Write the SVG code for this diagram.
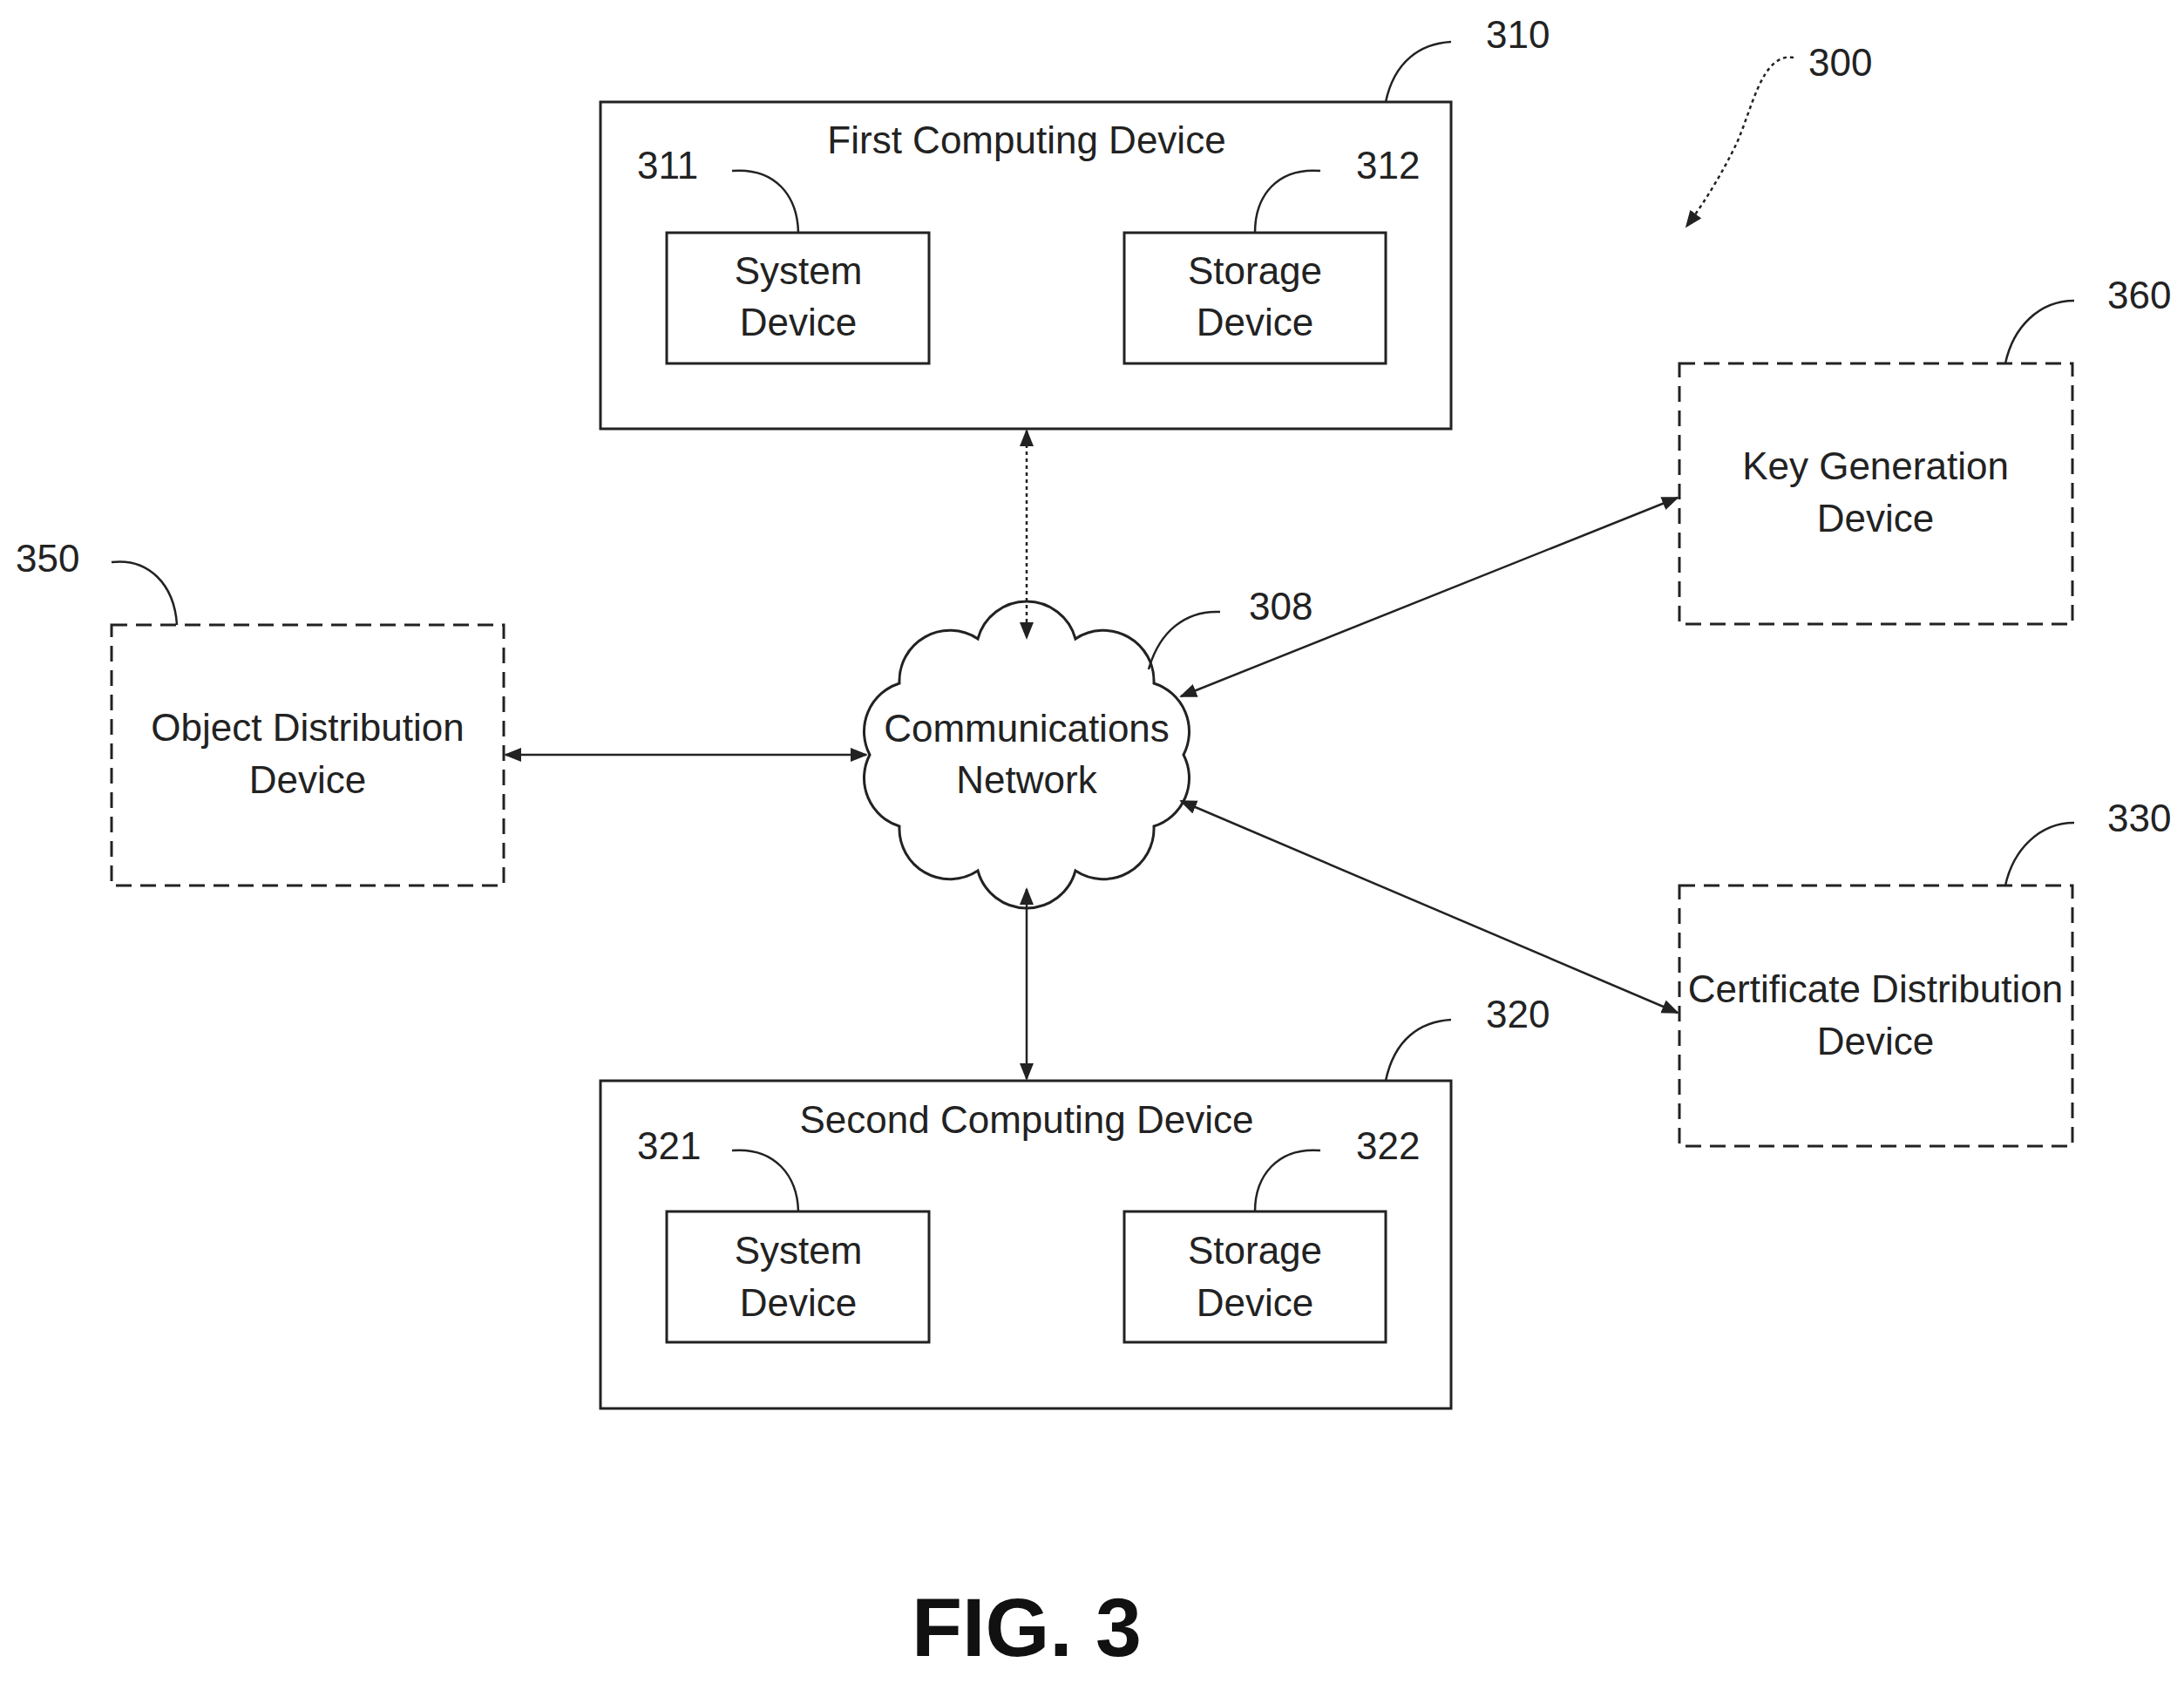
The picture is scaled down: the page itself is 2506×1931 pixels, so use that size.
<svg xmlns="http://www.w3.org/2000/svg" width="2506" height="1931" viewBox="0 0 2506 1931">
<style>
text{font-family:"Liberation Sans",Arial,sans-serif;font-size:44px;fill:#222;text-anchor:middle}
.lbl{text-anchor:start}
.box{fill:#fff;stroke:#222;stroke-width:3}
.dash{fill:#fff;stroke:#222;stroke-width:3;stroke-dasharray:18 10}
.ln{fill:none;stroke:#222;stroke-width:2.5}
</style>
<defs>
<marker id="a" viewBox="0 0 10 10" refX="9" refY="5" markerWidth="8" markerHeight="8" orient="auto-start-reverse" markerUnits="strokeWidth"><path d="M0,1 L10,5 L0,9 z" fill="#222"/></marker>
</defs>
<rect width="2506" height="1931" fill="#fff"/>
<g id="n310"><rect class="box" x="689" y="117" width="976" height="375"/><text x="1178" y="176">First Computing Device</text></g>
<g id="n311"><rect class="box" x="765" y="267" width="301" height="150"/><text x="916" y="326">System</text><text x="916" y="385">Device</text></g>
<g id="n312"><rect class="box" x="1290" y="267" width="300" height="150"/><text x="1440" y="326">Storage</text><text x="1440" y="385">Device</text></g>
<g id="n320"><rect class="box" x="689" y="1240" width="976" height="376"/><text x="1178" y="1300">Second Computing Device</text></g>
<g id="n321"><rect class="box" x="765" y="1390" width="301" height="150"/><text x="916" y="1450">System</text><text x="916" y="1510">Device</text></g>
<g id="n322"><rect class="box" x="1290" y="1390" width="300" height="150"/><text x="1440" y="1450">Storage</text><text x="1440" y="1510">Device</text></g>
<g id="n350"><rect class="dash" x="128" y="717" width="450" height="299"/><text x="353" y="850">Object Distribution</text><text x="353" y="910">Device</text></g>
<g id="n360"><rect class="dash" x="1927" y="417" width="451" height="299"/><text x="2152" y="550">Key Generation</text><text x="2152" y="610">Device</text></g>
<g id="n330"><rect class="dash" x="1927" y="1016" width="451" height="299"/><text x="2152" y="1150">Certificate Distribution</text><text x="2152" y="1210">Device</text></g>
<g id="n308"><path class="box" d="M1358,866 A58,58 0 0 1 1324,948 A58,58 0 0 1 1234,999 A58,58 0 0 1 1122,999 A58,58 0 0 1 1032,948 A58,58 0 0 1 998,866 A58,58 0 0 1 1032,784 A58,58 0 0 1 1122,733 A58,58 0 0 1 1234,733 A58,58 0 0 1 1324,784 A58,58 0 0 1 1358,866 Z"/><text x="1178" y="851">Communications</text><text x="1178" y="910">Network</text></g>
<g id="connectors">
<line class="ln" x1="1178" y1="494" x2="1178" y2="732" stroke-dasharray="4 4" marker-start="url(#a)" marker-end="url(#a)"/>
<line class="ln" x1="1178" y1="1020" x2="1178" y2="1238" marker-start="url(#a)" marker-end="url(#a)"/>
<line class="ln" x1="580" y1="866" x2="994" y2="866" marker-start="url(#a)" marker-end="url(#a)"/>
<line class="ln" x1="1355" y1="799" x2="1925" y2="571" marker-start="url(#a)" marker-end="url(#a)"/>
<line class="ln" x1="1355" y1="919" x2="1925" y2="1162" marker-start="url(#a)" marker-end="url(#a)"/>
</g>
<g id="labels">
<text class="lbl" x="1705" y="55">310</text><path class="ln" d="M1590,117 C1600,70 1630,50 1665,48"/>
<text class="lbl" x="2075" y="87">300</text><path class="ln" d="M2058,66 C2020,60 2010,130 1990,170 C1970,210 1950,240 1935,260" stroke-dasharray="4 4" marker-end="url(#a)"/>
<text class="lbl" x="2418" y="354">360</text><path class="ln" d="M2301,417 C2310,375 2340,345 2380,345"/>
<text class="lbl" x="2418" y="954">330</text><path class="ln" d="M2301,1016 C2310,975 2340,944 2380,944"/>
<text class="lbl" x="18" y="656">350</text><path class="ln" d="M128,645 C170,640 200,670 203,717"/>
<text class="lbl" x="1433" y="711">308</text><path class="ln" d="M1318,768 C1330,725 1360,700 1400,702"/>
<text class="lbl" x="1705" y="1179">320</text><path class="ln" d="M1590,1240 C1600,1192 1630,1172 1665,1170"/>
<text class="lbl" x="731" y="205">311</text><path class="ln" d="M840,196 C890,192 915,225 916,267"/>
<text class="lbl" x="1556" y="205">312</text><path class="ln" d="M1515,196 C1465,192 1440,225 1440,267"/>
<text class="lbl" x="731" y="1330">321</text><path class="ln" d="M840,1320 C890,1316 915,1350 916,1390"/>
<text class="lbl" x="1556" y="1330">322</text><path class="ln" d="M1515,1320 C1465,1316 1440,1350 1440,1390"/>
<text x="1178" y="1900" style="font-size:95px;font-weight:bold;fill:#111">FIG. 3</text>
</g>
</svg>
